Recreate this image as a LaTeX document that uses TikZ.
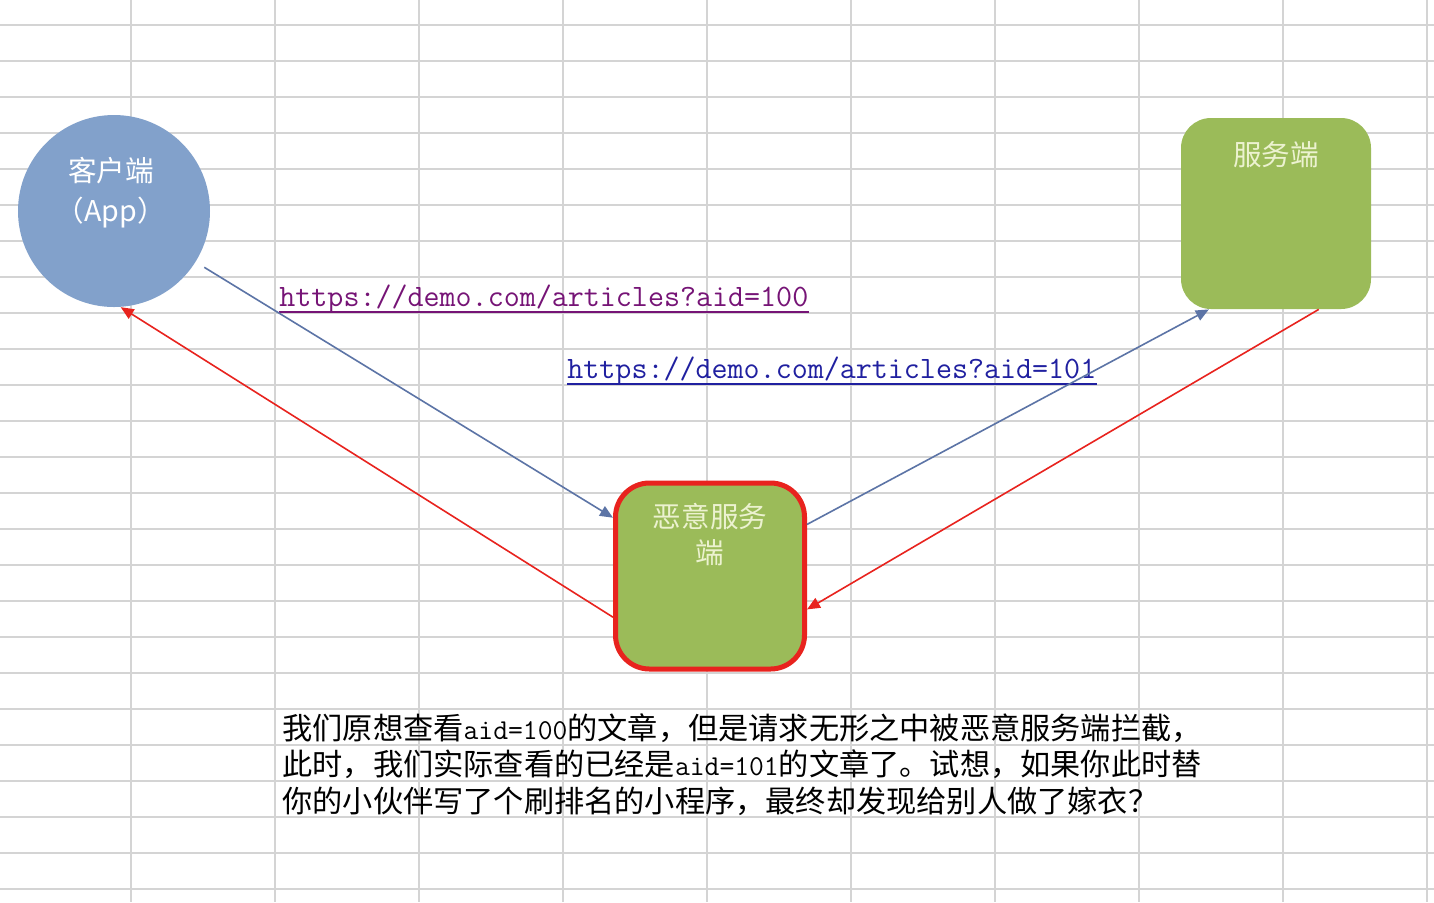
\documentclass[tikz,border=0pt]{standalone}
\usepackage{fontspec}
\setmainfont{Noto Sans CJK SC}
\usetikzlibrary{arrows.meta}
\definecolor{gridgray}{RGB}{212,212,212}
\definecolor{appblue}{RGB}{130,161,203}
\definecolor{boxgreen}{RGB}{155,187,89}
\definecolor{boxtext}{RGB}{236,242,208}
\definecolor{evilred}{RGB}{232,35,30}
\definecolor{linkblue}{RGB}{92,116,166}
\definecolor{visited}{RGB}{118,20,118}
\definecolor{urlblue}{RGB}{32,32,160}
\newcommand\halfmono{\ttfamily\fontsize{14.4}{18.25}\selectfont}
\begin{document}
\begin{tikzpicture}[x=0.5pt,y=-0.5pt,
gridline/.style={gridgray,line width=1pt},
greenbox/.style={rectangle,rounded corners=15pt,fill=boxgreen,minimum width=95pt,minimum height=95.5pt},
boxlabel/.style={text=boxtext,font=\fontsize{14.3}{18}\selectfont,align=center,inner sep=0pt},
bluearrow/.style={linkblue,line width=0.8pt,-{Triangle[length=6.5pt,width=5.5pt]}},
redarrow/.style={evilred,line width=0.8pt,-{Triangle[length=6.5pt,width=5.5pt]}},
urltext/.style={font=\ttfamily\fontsize{15.56}{18}\selectfont,inner sep=0pt,anchor=base west}]
\useasboundingbox[fill=white] (0,0) rectangle (1434,902);
\foreach \y in {25,61,...,889}
\draw[gridline] (0,\y) -- (1434,\y);
\foreach \x in {131,275,...,1427}
\draw[gridline] (\x,0) -- (\x,902);
\node[circle,fill=appblue,minimum size=96pt] (client) at (114,211) {};
\node[text=white,font=\fontsize{14.3}{20}\selectfont,align=center,inner sep=0pt] (clientlbl) at (111,193) {客户端\\（App）};
\node[greenbox] (server) at (1276,213.5) {};
\node[boxlabel] (serverlbl) at (1276,155) {服务端};
\node[greenbox,draw=evilred,line width=2.5pt,rounded corners=17pt,minimum width=94.5pt,minimum height=93pt] (evil) at (710,576) {};
\node[boxlabel] (evillbl) at (710,535) {恶意服务\\端};
\node[urltext,text=visited] (url1) at (279,306) {https://demo.com/articles?aid=100};
\draw[visited,line width=0.8pt] ([yshift=-3pt]url1.base west) -- ([yshift=-3pt]url1.base east);
\node[urltext,text=urlblue] (url2) at (567,378) {https://demo.com/articles?aid=101};
\draw[urlblue,line width=0.8pt] ([yshift=-3pt]url2.base west) -- ([yshift=-3pt]url2.base east);
\draw[bluearrow,shorten <=5pt] (client.-32) -- (evil.149);
\draw[redarrow] (evil.203) -- (client.-86);
\draw[bluearrow] (evil.28) -- (server.235);
\draw[redarrow] (server.-66) -- (evil.-19);
\node[anchor=base west,align=left,inner sep=0pt,font=\fontsize{15.1}{18.25}\selectfont] (note) at (282,812)
{我们原想查看{\halfmono aid=100}的文章，但是请求无形之中被恶意服务端拦截，\\
此时，我们实际查看的已经是{\halfmono aid=101}的文章了。试想，如果你此时替\\
你的小伙伴写了个刷排名的小程序，最终却发现给别人做了嫁衣？};
\end{tikzpicture}
\end{document}
